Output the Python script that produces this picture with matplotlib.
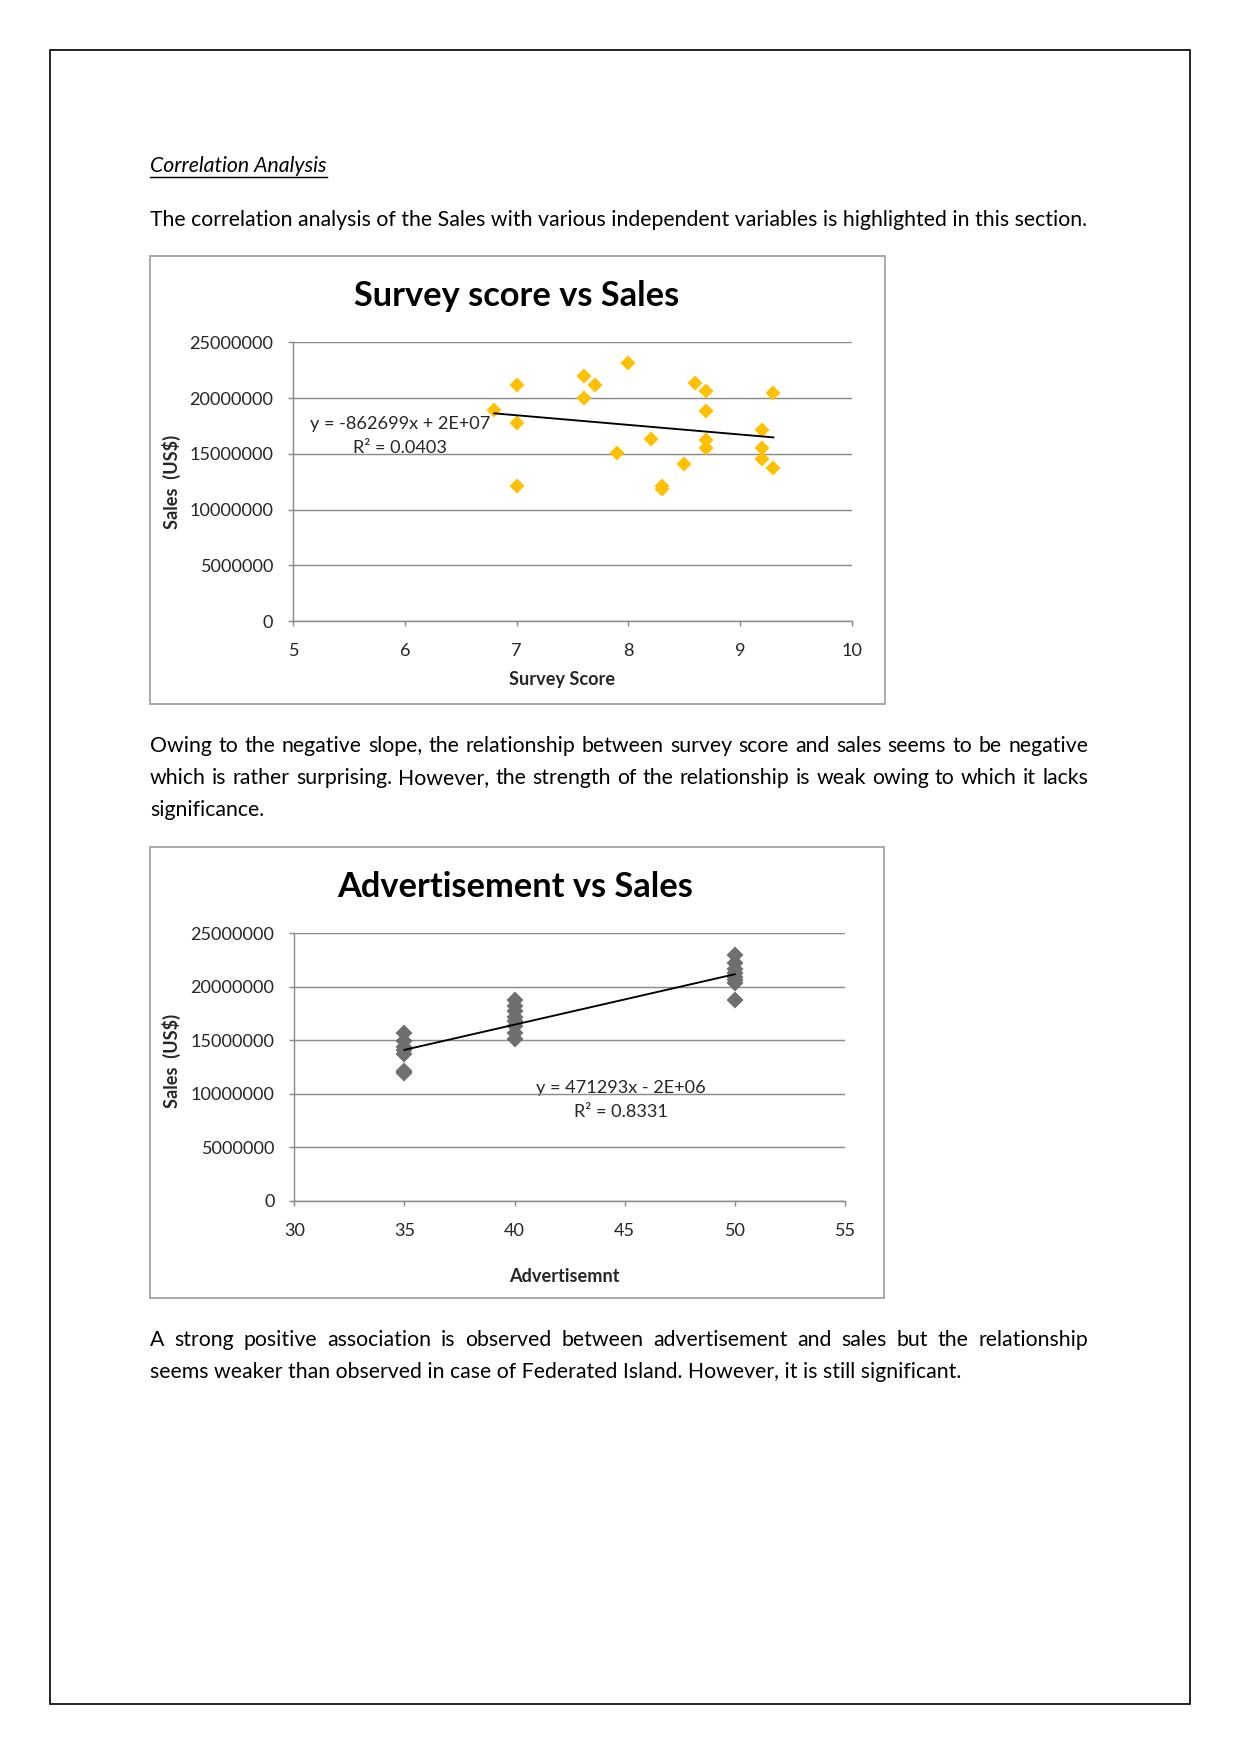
import numpy as np
import matplotlib
matplotlib.use("Agg")
import matplotlib.pyplot as plt
from matplotlib.patches import Rectangle

W, H, DPI = 1241, 1754, 150
FONT = "Lato"

# --- data (sales in US$) ---
survey_score = [6.8, 7.0, 7.0, 7.0, 7.6, 7.6, 7.7, 8.0, 7.9, 8.2, 8.3, 8.3,
                8.5, 8.6, 8.7, 8.7, 8.7, 8.7, 9.2, 9.2, 9.2, 9.3, 9.3]
survey_sales = [18.94e6, 21.18e6, 17.75e6, 12.12e6, 22.02e6, 20.0e6, 21.18e6,
                23.13e6, 15.05e6, 16.31e6, 12.1e6, 11.85e6, 14.09e6, 21.34e6,
                20.67e6, 18.88e6, 16.25e6, 15.5e6, 17.15e6, 15.5e6, 14.51e6,
                20.5e6, 13.71e6]
survey_trend = (-862699, 24.5e6)
survey_eq = ["y = -862699x + 2E+07", "R\u00b2 = 0.0403"]

advert = [35] * 7 + [40] * 8 + [50] * 8
advert_sales = [15.7e6, 14.9e6, 14.4e6, 14.1e6, 13.7e6, 12.1e6, 11.9e6,
                18.8e6, 18.2e6, 17.7e6, 17.2e6, 16.8e6, 16.3e6, 15.7e6, 15.1e6,
                23.0e6, 22.2e6, 21.7e6, 21.3e6, 20.9e6, 20.6e6, 20.3e6, 18.8e6]
advert_trend = (471293, -2.4e6)
advert_eq = ["y = 471293x - 2E+06", "R\u00b2 = 0.8331"]

sales_ticks = [0, 5000000, 10000000, 15000000, 20000000, 25000000]

heading = "Correlation Analysis"
intro = "The correlation analysis of the Sales with various independent variables is highlighted in this section."
para_survey = [
    "Owing to the negative slope, the relationship between survey score and sales seems to be negative",
    "which is rather surprising. However, the strength of the relationship is weak owing to which it lacks",
    "significance.",
]
para_advert = [
    "A strong positive association is observed between advertisement and sales but the relationship",
    "seems weaker than observed in case of Federated Island. However, it is still significant.",
]

fig = plt.figure(figsize=(W / DPI, H / DPI), dpi=DPI)
bg = fig.add_axes([0, 0, 1, 1])
bg.set_xlim(0, W)
bg.set_ylim(H, 0)
bg.axis("off")
renderer = fig.canvas.get_renderer()

# page frame
bg.add_patch(Rectangle((50, 50), 1140, 1654, fill=False, lw=0.8, ec="black"))


def text_width(s, size, **kw):
    t = bg.text(0, 0, s, fontsize=size, family=FONT, **kw)
    w = t.get_window_extent(renderer).width
    t.remove()
    return w


# fit body size so the intro line spans the same width as on the page
body = 10 * 932 / text_width(intro, 10)


def put_line(s, x0, x1, y, justify):
    if not justify:
        bg.text(x0, y, s, fontsize=body, family=FONT, va="baseline")
        return
    words = s.split()
    widths = [text_width(w, body) for w in words]
    gap = (x1 - x0 - sum(widths)) / (len(words) - 1)
    x = x0
    for w, wd in zip(words, widths):
        bg.text(x, y, w, fontsize=body, family=FONT, va="baseline")
        x += wd + gap


def put_para(lines, y0, step=31.8):
    for i, s in enumerate(lines):
        put_line(s, 150, 1088, y0 + i * step, justify=i < len(lines) - 1)


hw = text_width(heading, body, style="italic")
bg.text(150, 172.5, heading, fontsize=body, family=FONT, style="italic", va="baseline")
bg.plot([150, 150 + hw], [176.5, 176.5], color="black", lw=0.7)
put_line(intro, 150, 1082, 225.5, justify=False)
put_para(para_survey, 752)
put_para(para_advert, 1346)


def px_axes(l, t, r, b):
    return fig.add_axes([l / W, 1 - b / H, (r - l) / W, (b - t) / H])


def scatter_chart(box, area, x, y, xlim, xticks, color, ms, trend, eq, eq_xy,
                  title, title_xy, xlabel, xlabel_xy, ylabel_xy):
    bx0, by0, bx1, by1 = box
    bg.add_patch(Rectangle((bx0, by0), bx1 - bx0, by1 - by0, fill=False,
                           lw=0.9, ec="#a6a6a6"))
    ax = px_axes(*area)
    ax.set_facecolor("none")
    ax.set_xlim(*xlim)
    ax.set_ylim(0, 25000000)
    ax.set_xticks(xticks)
    ax.set_yticks(sales_ticks)
    ax.set_yticklabels([str(v) for v in sales_ticks])
    ax.grid(axis="y", color="#8c8c8c", lw=0.7)
    ax.set_axisbelow(True)
    for s in ("top", "right"):
        ax.spines[s].set_visible(False)
    for s in ("left", "bottom"):
        ax.spines[s].set_color("#8c8c8c")
        ax.spines[s].set_linewidth(0.7)
    ax.tick_params(length=2.5, width=0.7, color="#8c8c8c", labelsize=8.7,
                   labelcolor="#262626")
    ax.tick_params(axis="y", pad=7)
    ax.tick_params(axis="x", pad=8)
    for lab in ax.get_xticklabels() + ax.get_yticklabels():
        lab.set_family(FONT)
    ax.plot(x, y, ls="none", marker="D", ms=ms, color=color, mec=color,
            clip_on=False, zorder=3)
    tx = np.array([min(x), max(x)])
    ax.plot(tx, trend[0] * tx + trend[1], color="black", lw=0.9, zorder=4)

    bg.text(title_xy[0], title_xy[1], title, fontsize=16.5, family=FONT,
            weight="bold", ha="center", va="center", color="black")
    bg.text(xlabel_xy[0], xlabel_xy[1], xlabel, fontsize=8.7, family=FONT,
            weight="bold", ha="center", va="center", color="#262626")
    bg.text(ylabel_xy[0], ylabel_xy[1], "Sales  (US$)", fontsize=8.7, family=FONT,
            weight="bold", ha="center", va="center", rotation=90, color="#262626")
    bg.text(eq_xy[0], eq_xy[1], eq[0], fontsize=8.7, family=FONT,
            ha="center", va="center", color="#262626")
    bg.text(eq_xy[0], eq_xy[1] + 24, eq[1], fontsize=8.7, family=FONT,
            ha="center", va="center", color="#262626")
    return ax


scatter_chart((150, 256, 885, 704), (293.2, 342.4, 851.6, 621),
              survey_score, survey_sales, (5, 10), [5, 6, 7, 8, 9, 10],
              "#FFC000", 4.2, survey_trend, survey_eq, (400, 424),
              "Survey score vs Sales", (517, 296), "Survey Score", (562, 679),
              (171, 482))

scatter_chart((150, 847, 884, 1298), (294.3, 933.2, 844.8, 1200.7),
              advert, advert_sales, (30, 55), [30, 35, 40, 45, 50, 55],
              "#6f6f6f", 4.6, advert_trend, advert_eq, (621, 1088),
              "Advertisement vs Sales", (515, 887), "Advertisemnt", (564, 1277),
              (171, 1061))

fig.savefig("out.png", dpi=DPI)
